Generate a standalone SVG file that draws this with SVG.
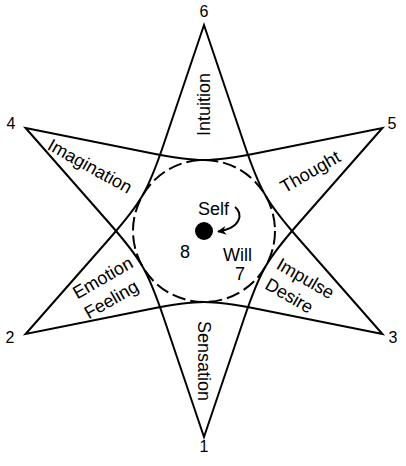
<svg xmlns="http://www.w3.org/2000/svg" width="406" height="466" viewBox="0 0 406 466">
<defs>
<style>
.ln{fill:none;stroke:#000;stroke-width:2;stroke-linejoin:miter;stroke-miterlimit:10}
.dash{fill:none;stroke:#000;stroke-width:2;stroke-dasharray:13.6 5}
.t{font-family:"Liberation Sans",Arial,sans-serif;font-size:18px;fill:#000}
.n{font-family:"Liberation Sans",Arial,sans-serif;font-size:16px;fill:#000;text-anchor:middle}
.c{text-anchor:middle}
</style>
<marker id="ah" viewBox="0 0 10 10" refX="9" refY="5" markerWidth="9" markerHeight="9" markerUnits="userSpaceOnUse" orient="auto">
<path d="M0,0 L10,5 L0,10 L3,5 Z" fill="#000"/>
</marker>
</defs>
<rect width="406" height="466" fill="#fff"/>
<g id="star" transform="translate(204,231)">
<path id="triangle-145" class="ln" d="M-178.4,-103 L-55,-78.3 Q-18.5,-71 0,-71 Q18.5,-71 55,-78.3 L178.4,-103 L95.31,-8.48 Q70.74,19.48 61.49,35.5 Q52.24,51.52 40.31,86.78 L0,206 L-40.31,86.78 Q-52.24,51.52 -61.49,35.5 Q-70.74,19.48 -95.31,-8.48 Z"/>
<path id="triangle-623" class="ln" d="M178.4,103 L55,78.3 Q18.5,71 0,71 Q-18.5,71 -55,78.3 L-178.4,103 L-95.31,8.48 Q-70.74,-19.48 -61.49,-35.5 Q-52.24,-51.52 -40.31,-86.78 L0,-206 L40.31,-86.78 Q52.24,-51.52 61.49,-35.5 Q70.74,-19.48 95.31,8.48 Z"/>
<circle id="circle" class="dash" cx="0" cy="0" r="71"/>
</g>
<g id="self">
<circle cx="204" cy="231" r="9" fill="#000"/>
<text class="t c" x="213.5" y="215">Self</text>
<path class="ln" d="M235,207 C243,213 242,228 218,231.5" marker-end="url(#ah)"/>
</g>
<g id="will">
<text class="t c" x="237.5" y="261">Will</text>
<text class="t c" x="240" y="280">7</text>
</g>
<text id="label-8" class="t c" x="185" y="258">8</text>
<g id="labels">
<text class="t c" transform="translate(210,104.5) rotate(-90)">Intuition</text>
<text class="t c" transform="translate(198,361) rotate(90)">Sensation</text>
<text class="t c" transform="translate(87,171.5) rotate(29)">Imagination</text>
<text class="t c" transform="translate(313.25,177.1) rotate(-30)">Thought</text>
<text class="t" transform="translate(77.2,299.6) rotate(-30)"><tspan x="0" y="0">Emotion</tspan><tspan x="0" y="23">Feeling</tspan></text>
<text class="t" transform="translate(275.2,268) rotate(30)"><tspan x="0" y="0">Impulse</tspan><tspan x="0" y="23">Desire</tspan></text>
</g>
<g id="numbers">
<text class="n" x="204" y="17">6</text>
<text class="n" x="11" y="128.5">4</text>
<text class="n" x="392" y="128.5">5</text>
<text class="n" x="10" y="343">2</text>
<text class="n" x="393" y="343">3</text>
<text class="n" x="204" y="452">1</text>
</g>
</svg>
